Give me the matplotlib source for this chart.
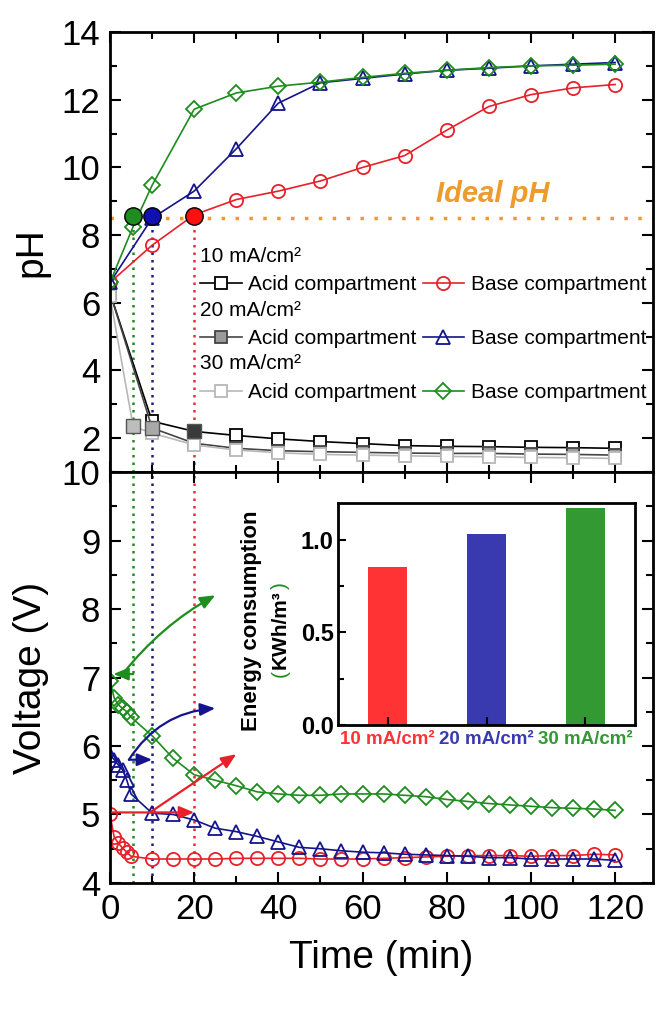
import matplotlib
matplotlib.use('Agg')
import matplotlib.pyplot as plt
from matplotlib.ticker import MultipleLocator, FixedLocator
from matplotlib.lines import Line2D
from matplotlib.text import Text
from matplotlib.legend_handler import HandlerBase

plt.rcParams['font.family'] = ['Liberation Sans', 'DejaVu Sans']

# ---- pH data (top panel) ----
t_ph = [0, 10, 20, 30, 40, 50, 60, 70, 80, 90, 100, 110, 120]
t_ph30 = [0, 5.5, 10, 20, 30, 40, 50, 60, 70, 80, 90, 100, 110, 120]
base10 = [6.6, 7.7, 8.6, 9.05, 9.3, 9.6, 10.0, 10.35, 11.1, 11.8, 12.15, 12.35, 12.45]
base20 = [6.6, 8.5, 9.3, 10.55, 11.9, 12.5, 12.63, 12.76, 12.87, 12.93, 13.0, 13.05, 13.1]
base30 = [6.6, 8.25, 9.47, 11.72, 12.2, 12.4, 12.52, 12.66, 12.78, 12.87, 12.95, 13.0, 13.02, 13.05]
acid10 = [6.3, 2.5, 2.2, 2.08, 1.98, 1.9, 1.84, 1.78, 1.76, 1.75, 1.73, 1.72, 1.7]
acid20 = [6.3, 2.3, 1.85, 1.7, 1.63, 1.6, 1.58, 1.56, 1.55, 1.55, 1.53, 1.52, 1.5]
acid30 = [6.2, 2.35, 2.15, 1.8, 1.65, 1.57, 1.52, 1.5, 1.48, 1.46, 1.45, 1.43, 1.42, 1.4]

ideal_ph = 8.5
ideal_t = [5.5, 10, 20]            # 30, 20, 10 mA/cm2
ideal_base = [8.55, 8.55, 8.55]
ideal_acid = [2.35, 2.3, 2.2]

# ---- voltage data (bottom panel) ----
t_v = [0, 1, 2, 3, 4, 5, 10, 15, 20, 25, 30, 35, 40, 45, 50, 55, 60, 65, 70,
       75, 80, 85, 90, 95, 100, 105, 110, 115, 120]
volt10 = [5.0, 4.67, 4.58, 4.51, 4.45, 4.39, 4.35, 4.35, 4.35, 4.35, 4.36, 4.36,
          4.36, 4.36, 4.35, 4.35, 4.35, 4.36, 4.37, 4.38, 4.39, 4.40, 4.40, 4.40,
          4.39, 4.40, 4.40, 4.42, 4.41]
volt20 = [5.87, 5.8, 5.72, 5.65, 5.5, 5.3, 5.02, 5.0, 4.92, 4.8, 4.75, 4.68, 4.6,
          4.52, 4.5, 4.47, 4.45, 4.44, 4.42, 4.41, 4.4, 4.39, 4.37, 4.37, 4.35,
          4.35, 4.35, 4.35, 4.33]
volt30 = [6.95, 6.7, 6.6, 6.55, 6.5, 6.42, 6.15, 5.82, 5.58, 5.5, 5.42, 5.33, 5.3,
          5.28, 5.28, 5.3, 5.3, 5.3, 5.28, 5.26, 5.22, 5.19, 5.16, 5.14, 5.12,
          5.1, 5.09, 5.08, 5.06]

# ---- energy consumption (inset) ----
densities = ['10 mA/cm²', '20 mA/cm²', '30 mA/cm²']
energy = [0.855, 1.03, 1.17]

RED = '#E8202A'
BLUE = '#14148C'
GREEN = '#1E8C1E'
ORANGE = '#EE9A2C'
bar_colors = ['#FF3333', '#3A3AB0', '#339933']


class Header:
    def __init__(self, s):
        self.s = s


class HeaderHandler(HandlerBase):
    # draws the header text where the legend handle would go
    def create_artists(self, legend, orig_handle, xdescent, ydescent,
                       width, height, fontsize, trans):
        t = Text(-xdescent, -ydescent + height / 2, orig_handle.s,
                 fontsize=fontsize, va='center', ha='left', transform=trans)
        return [t]


fig = plt.figure(figsize=(6.57, 10.14), dpi=100)
gs = fig.add_gridspec(2, 1, height_ratios=[440, 411], hspace=0,
                      left=0.1674, right=0.9939, top=0.9684, bottom=0.1292)
ax1 = fig.add_subplot(gs[0])
ax2 = fig.add_subplot(gs[1], sharex=ax1)

mk = dict(lw=1.2, mew=1.3)
a10, = ax1.plot(t_ph, acid10, '-s', color='black', mfc='white', mec='black', ms=8.5, **mk)
a20, = ax1.plot(t_ph, acid20, '-s', color='#444444', mfc='#9A9A9A', mec='#444444', ms=8.5, **mk)
a30, = ax1.plot(t_ph30, acid30, '-s', color='#B8B8B8', mfc='white', mec='#B8B8B8', ms=8.5, **mk)
b10, = ax1.plot(t_ph, base10, '-o', color=RED, mfc='none', mec=RED, ms=9.5, **mk)
b20, = ax1.plot(t_ph, base20, '-^', color=BLUE, mfc='none', mec=BLUE, ms=10, **mk)
b30, = ax1.plot(t_ph30, base30, '-D', color=GREEN, mfc='none', mec=GREEN, ms=8, **mk)

hl_cols = [GREEN, '#1010B0', '#FF1010']
sq_cols = ['#BDBDBD', '#A8A8A8', '#3A3A3A']
line_cols = [GREEN, '#1C1C80', '#E0303A']
for t, yb, ya, c, cs, cl in zip(ideal_t, ideal_base, ideal_acid, hl_cols, sq_cols, line_cols):
    ax1.plot([t, t], [1, ideal_ph], ls=(0, (1, 2)), lw=1.8, color=cl, zorder=1)
    ax2.axvline(t, ls=(0, (1, 2)), lw=1.8, color=cl, zorder=1)
    ax1.plot(t, ya, 's', ms=10, mfc=cs, mec='#555555', mew=1.0, zorder=5)
    ax1.plot(t, yb, 'o', ms=12.5, mfc=c, mec='black', mew=1.0, zorder=5)

ax1.axhline(ideal_ph, ls=(0, (1, 3)), lw=2.5, color=ORANGE, zorder=0)
ax1.text(91, 9.2, 'Ideal pH', color=ORANGE, fontsize=21, fontweight='bold',
         fontstyle='italic', ha='center', va='center')

blank = Line2D([], [], ls='none')
handles = [Header('10 mA/cm²'), a10, Header('20 mA/cm²'), a20, Header('30 mA/cm²'), a30,
           blank, b10, blank, b20, blank, b30]
labels = ['', 'Acid compartment', '', 'Acid compartment', '', 'Acid compartment',
          '', 'Base compartment', '', 'Base compartment', '', 'Base compartment']
ax1.legend(handles, labels, ncol=2, loc='upper left', bbox_to_anchor=(0.166, 0.508),
           frameon=False, fontsize=15, handlelength=2.0, handletextpad=0.3,
           columnspacing=0.3, labelspacing=0.38, borderpad=0, borderaxespad=0,
           handler_map={Header: HeaderHandler()})

# voltage panel
ax2.plot(t_v, volt10, '-o', color=RED, mfc='none', mec=RED, ms=9.5, **mk)
ax2.plot(t_v, volt20, '-^', color=BLUE, mfc='none', mec=BLUE, ms=10, **mk)
ax2.plot(t_v, volt30, '-D', color=GREEN, mfc='none', mec=GREEN, ms=8, **mk)

arrow = '-|>,head_length=0.6,head_width=0.25'
arrows = [
    ((5.5, 7.05), (0.8, 7.05), GREEN, 0.0),
    ((3.0, 7.05), (25, 8.2), GREEN, -0.1),
    ((4.5, 5.8), (10, 5.8), BLUE, 0.0),
    ((4.5, 5.8), (25, 6.55), BLUE, -0.25),
    ((0.5, 5.03), (20, 5.03), RED, 0.0),
    ((9.5, 5.03), (30, 5.88), RED, 0.0),
]
for start, end, c, rad in arrows:
    ax2.annotate('', xy=end, xytext=start,
                 arrowprops=dict(arrowstyle=arrow, color=c, lw=1.6, mutation_scale=15,
                                 shrinkA=0, shrinkB=0,
                                 connectionstyle='arc3,rad=%s' % rad))

# axes styling
ax1.set_xlim(0, 129)
ax1.set_ylim(1, 14)
ax2.set_ylim(4, 10)
ax1.xaxis.set_major_locator(MultipleLocator(20))
ax1.xaxis.set_minor_locator(MultipleLocator(10))
ax1.yaxis.set_major_locator(MultipleLocator(2))
ax1.yaxis.set_minor_locator(MultipleLocator(1))
ax2.yaxis.set_major_locator(MultipleLocator(1))
ax2.yaxis.set_minor_locator(MultipleLocator(0.5))
for ax in (ax1, ax2):
    for s in ax.spines.values():
        s.set_linewidth(2)
    ax.tick_params(which='both', direction='in', top=True, right=True, width=1.5)
    ax.tick_params(which='major', length=8, labelsize=25, pad=7)
    ax.tick_params(which='minor', length=5)
ax1.tick_params(labelbottom=False)

ax1.set_ylabel('pH', fontsize=28)
ax2.set_ylabel('Voltage (V)', fontsize=28)
ax2.set_xlabel('Time (min)', fontsize=28, labelpad=10)
ax1.yaxis.set_label_coords(-0.112, 0.5)
ax2.yaxis.set_label_coords(-0.112, 0.5)

# inset bar chart
ax3 = fig.add_axes([0.5145, 0.285, 0.452, 0.219])
ax3.bar([1, 2, 3], energy, width=0.4, color=bar_colors)
ax3.set_xlim(0.5, 3.5)
ax3.set_ylim(0, 1.2)
ax3.yaxis.set_major_locator(FixedLocator([0, 0.5, 1.0]))
ax3.yaxis.set_minor_locator(FixedLocator([0.25, 0.75]))
ax3.set_yticklabels(['0.0', '0.5', '1.0'], fontsize=17, fontweight='bold')
ax3.set_xticks([1, 2, 3])
ax3.set_xticklabels(densities, fontsize=13.5, fontweight='bold')
for lab, c in zip(ax3.get_xticklabels(), bar_colors):
    lab.set_color(c)
for s in ax3.spines.values():
    s.set_linewidth(2)
ax3.tick_params(which='both', direction='in', width=1.5)
ax3.tick_params(which='major', length=6, pad=3)
ax3.tick_params(which='minor', length=4)
ax3.tick_params(axis='x', pad=4)
ax3.text(-0.29, 0.47, 'Energy consumption', transform=ax3.transAxes, rotation=90,
         fontsize=16, fontweight='bold', ha='center', va='center')
unit = ax3.text(-0.195, 0.43, 'KWh/m³', transform=ax3.transAxes, rotation=90,
                fontsize=15, fontweight='bold', ha='center', va='center')

# green brackets around the unit, placed from the unit's measured extent
fig.canvas.draw()
bb = unit.get_window_extent().transformed(ax3.transAxes.inverted())
xc = (bb.x0 + bb.x1) / 2
ax3.text(xc, bb.y0 - 0.005, '(', transform=ax3.transAxes, rotation=90, fontsize=15,
         color=GREEN, ha='center', va='top')
ax3.text(xc, bb.y1 + 0.005, ')', transform=ax3.transAxes, rotation=90, fontsize=15,
         color=GREEN, ha='center', va='bottom')

fig.savefig('out.png', dpi=100)
